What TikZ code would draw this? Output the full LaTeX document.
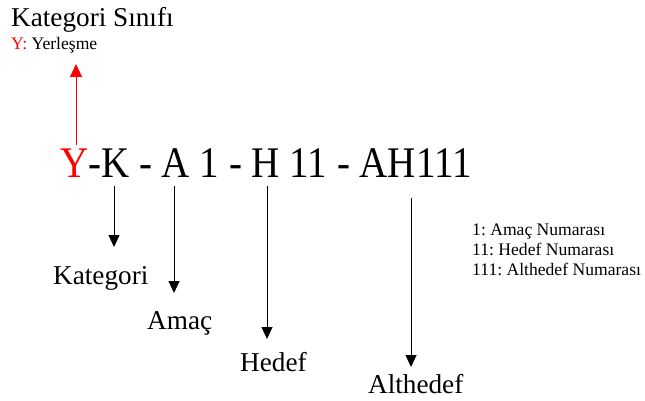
\documentclass[tikz,border=0pt]{standalone}
\usepackage{fontspec}
\setmainfont{Liberation Serif}
\usepackage{xcolor}
\usetikzlibrary{arrows.meta}
\frenchspacing

\begin{document}
\begin{tikzpicture}[x=1pt, y=-1pt,
    big/.style={font=\fontsize{27.2}{30}\selectfont, inner sep=0pt, anchor=base west},
    small/.style={font=\fontsize{17.6}{20}\selectfont, inner sep=0pt, anchor=base west},
    code/.style={font=\fontsize{39}{44}\selectfont, inner sep=0pt, anchor=base west, yscale=1.12, transform shape},
    down/.style={line width=0.9pt, -{Triangle[length=12pt, width=11pt]}},
    up/.style={red, line width=0.9pt, -{Triangle[length=13pt, width=12pt]}}]
  \useasboundingbox (0,0) rectangle (645,401);
  % class heading and its key
  \node[big] (klass) at (11,27) {Kategori Sınıfı};
  \node[small] (yer) at (11,50) {\textcolor{red}{Y:} Yerleşme};
  % the code itself
  \node[code] (kod) at (60,177) {\textcolor{red}{Y}-K - A 1 - H 11 - AH111};
  \coordinate (y-bot) at (76,145);
  \coordinate (y-top) at (76,64);
  \draw[up] (y-bot) -- (y-top);
  % parts of the code
  \coordinate (k-top) at (114,186);
  \coordinate (k-tip) at (114,247);
  \coordinate (a-top) at (174,186);
  \coordinate (a-tip) at (174,293);
  \coordinate (h-top) at (267,186);
  \coordinate (h-tip) at (267,339);
  \coordinate (ah-top) at (411,198);
  \coordinate (ah-tip) at (411,367);
  \draw[down] (k-top) -- (k-tip);
  \draw[down] (a-top) -- (a-tip);
  \draw[down] (h-top) -- (h-tip);
  \draw[down] (ah-top) -- (ah-tip);
  \node[big] (kat) at (53,284) {Kategori};
  \node[big] (amac) at (147,329) {Amaç};
  \node[big] (hedef) at (240,371) {Hedef};
  \node[big] (alt) at (368,393) {Althedef};
  % number legend
  \node[small] (n1) at (472,235) {1: Amaç Numarası};
  \node[small] (n2) at (472,255) {11: Hedef Numarası};
  \node[small] (n3) at (472,275) {111: Althedef Numarası};
\end{tikzpicture}
\end{document}
